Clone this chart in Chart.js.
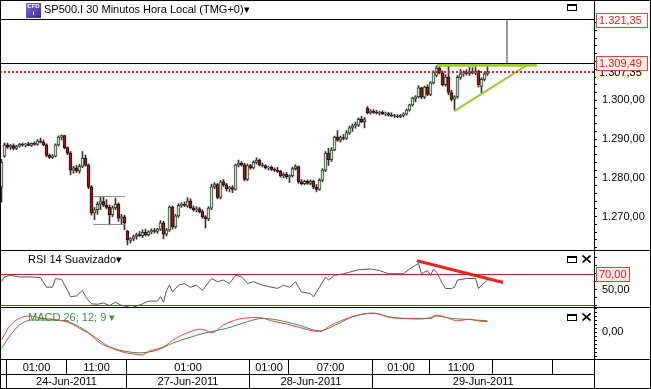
<!DOCTYPE html>
<html>
<head>
<meta charset="utf-8">
<script src="https://cdn.jsdelivr.net/npm/chart.js@4.4.1/dist/chart.umd.min.js"></script>
<style>
  body { margin: 0; background: #fff; font-family: "Liberation Sans", Arial, sans-serif; }
  #wrap { position: relative; width: 651px; height: 389px; overflow: hidden; background: #fff; }
  canvas { position: absolute; left: 0; }
  .ln { position: absolute; background: #000; }
  .txt { position: absolute; font-size: 11px; line-height: 13px; white-space: nowrap; color: #000; }
  .win { position: absolute; width: 8px; height: 4px; border: 1px solid #000; border-top-width: 2px; }
</style>
</head>
<body>
<div id="wrap">
  <canvas id="price" width="651" height="250" style="top:0px"></canvas>
  <canvas id="rsi" width="651" height="57" style="top:250px"></canvas>
  <canvas id="macd" width="651" height="82" style="top:307px"></canvas>

  <div class="ln" style="left:0;top:19px;width:594px;height:1px"></div>
  <div class="ln" style="left:594px;top:0;width:1px;height:389px"></div>
  <div class="ln" style="left:0;top:250px;width:651px;height:1px"></div>
  <div class="ln" style="left:0;top:307px;width:651px;height:1px"></div>
  <div class="ln" style="left:0;top:359px;width:651px;height:1px"></div>
  <div class="ln" style="left:0;top:374px;width:594px;height:1px"></div>
  <div style="position:absolute;left:0;top:0;width:651px;height:389px;border:1px solid #000;box-sizing:border-box"></div>

  <div style="position:absolute;left:26px;top:3px;width:15px;height:15px;background:linear-gradient(135deg,#7b6fd8,#3b2b8c);color:#fff;font:bold 6px Arial;line-height:7px;text-align:center">CFD<br>i</div>
  <div class="txt" style="left:44px;top:3px">SP500.I 30 Minutos Hora Local (TMG+0)▾</div>
  <div class="txt" style="left:28px;top:253px">RSI 14 Suavizado▾</div>
  <div class="txt" style="left:28px;top:311px;color:#3c8c3c">MACD 26; 12; 9 ▾</div>

  <div class="win" style="left:567px;top:4px"></div>
  <div class="win" style="left:567px;top:256px"></div>
  <div class="win" style="left:567px;top:314px"></div>
  <svg style="position:absolute;left:582px;top:255px" width="9" height="8"><path d="M0.5 0.5L8.5 7.5M8.5 0.5L0.5 7.5" stroke="#000" stroke-width="1.6"/></svg>
  <svg style="position:absolute;left:582px;top:313px" width="9" height="8"><path d="M0.5 0.5L8.5 7.5M8.5 0.5L0.5 7.5" stroke="#000" stroke-width="1.6"/></svg>
</div>

<script>
// 30 minute candles, SP500.I, 23-Jun-2011 evening to 29-Jun-2011
const opens = [
  1277.7, 1285.6, 1288.5, 1287.9, 1288.3, 1287.6, 1288.2, 1288.7, 1288.5, 1288.8,
  1288.4, 1288.9, 1288.6, 1289.5, 1289.2, 1288.5, 1285.8, 1285.3, 1285.6, 1288.5,
  1290.5, 1290.9, 1287.8, 1286.4, 1282.0, 1282.6, 1281.8, 1283.0, 1285.1, 1283.3,
  1277.7, 1271.0, 1271.8, 1273.2, 1273.9, 1273.0, 1272.4, 1270.5, 1272.3, 1273.2,
  1269.6, 1270.0, 1266.2, 1263.9, 1264.3, 1264.9, 1265.4, 1265.1, 1266.0, 1265.4,
  1266.1, 1266.4, 1266.2, 1266.8, 1268.4, 1265.5, 1266.6, 1272.5, 1267.4, 1270.2,
  1272.9, 1273.2, 1272.7, 1274.0, 1272.3, 1271.8, 1272.0, 1271.3, 1270.0, 1269.4,
  1272.2, 1277.7, 1278.3, 1275.0, 1279.0, 1278.2, 1277.2, 1277.5, 1277.0, 1283.3,
  1283.8, 1283.4, 1279.6, 1283.2, 1282.6, 1284.0, 1284.6, 1283.3, 1283.2, 1282.6,
  1282.8, 1282.2, 1282.0, 1281.7, 1280.5, 1281.0, 1280.3, 1280.6, 1282.4, 1282.9,
  1279.0, 1278.5, 1279.1, 1278.6, 1279.2, 1277.6, 1277.0, 1279.4, 1282.0, 1286.4,
  1284.7, 1287.2, 1290.5, 1289.7, 1290.4, 1290.2, 1291.6, 1292.9, 1293.4, 1293.6,
  1295.1, 1294.5, 1298.0, 1296.8, 1297.2, 1296.9, 1296.7, 1296.9, 1296.5, 1296.6,
  1296.2, 1296.0, 1295.9, 1295.8, 1296.1, 1296.4, 1297.5, 1298.8, 1300.3, 1300.9,
  1303.2, 1300.8, 1303.4, 1301.5, 1304.5, 1306.4, 1308.3, 1307.0, 1304.0, 1306.0,
  1302.0, 1300.2, 1300.9, 1305.9, 1306.8, 1307.1, 1306.9, 1307.4, 1307.0, 1307.5,
  1303.6, 1305.4, 1306.8
];
const highs = [
  1284.8, 1289.0, 1289.0, 1288.6, 1288.8, 1288.4, 1288.9, 1289.0, 1288.9, 1289.2,
  1289.0, 1289.3, 1289.9, 1290.3, 1289.8, 1288.8, 1286.2, 1286.0, 1288.8, 1290.8,
  1291.1, 1291.0, 1288.0, 1286.8, 1283.0, 1283.2, 1283.5, 1286.8, 1285.9, 1283.6,
  1278.0, 1272.4, 1273.8, 1275.0, 1275.2, 1274.4, 1273.0, 1272.8, 1274.8, 1273.6,
  1270.6, 1270.4, 1266.5, 1264.6, 1265.3, 1265.8, 1266.2, 1266.6, 1266.8, 1266.4,
  1266.9, 1267.0, 1267.0, 1269.0, 1268.8, 1267.0, 1272.8, 1272.8, 1270.6, 1273.4,
  1273.6, 1273.8, 1274.9, 1274.6, 1272.8, 1272.6, 1272.4, 1271.8, 1270.3, 1272.6,
  1278.4, 1278.8, 1278.6, 1279.4, 1279.6, 1278.6, 1277.8, 1278.0, 1283.6, 1284.6,
  1284.2, 1283.8, 1283.6, 1283.5, 1284.4, 1285.2, 1284.9, 1283.8, 1283.4, 1283.0,
  1283.1, 1282.6, 1282.7, 1282.0, 1281.3, 1281.4, 1280.8, 1282.8, 1283.4, 1283.1,
  1279.6, 1279.4, 1279.5, 1279.5, 1279.4, 1278.3, 1279.8, 1282.4, 1286.8, 1287.6,
  1287.8, 1290.8, 1292.2, 1290.8, 1291.2, 1292.2, 1293.4, 1293.9, 1294.4, 1295.5,
  1295.9, 1295.6, 1298.4, 1297.6, 1297.6, 1297.4, 1297.2, 1297.3, 1297.0, 1296.9,
  1296.8, 1296.4, 1296.3, 1296.4, 1296.8, 1297.8, 1299.0, 1300.8, 1301.2, 1303.8,
  1303.4, 1303.7, 1304.0, 1304.8, 1307.6, 1308.9, 1309.0, 1307.6, 1306.6, 1308.8,
  1302.6, 1301.2, 1306.4, 1308.0, 1307.6, 1307.9, 1308.6, 1308.4, 1308.9, 1307.8,
  1305.8, 1307.2, 1308.8
];
const lows = [
  1273.8, 1285.3, 1287.6, 1287.3, 1287.2, 1287.3, 1287.9, 1288.1, 1288.0, 1288.3,
  1288.1, 1288.4, 1288.4, 1289.0, 1288.3, 1285.4, 1285.0, 1285.0, 1285.4, 1288.2,
  1289.8, 1287.5, 1286.0, 1280.8, 1281.2, 1281.4, 1281.2, 1282.6, 1283.0, 1277.2,
  1270.4, 1269.2, 1270.6, 1271.8, 1272.6, 1272.0, 1267.9, 1270.0, 1271.8, 1268.8,
  1268.0, 1266.6, 1262.7, 1263.2, 1263.8, 1264.2, 1264.9, 1264.6, 1265.0, 1265.0,
  1265.6, 1265.8, 1265.7, 1266.4, 1264.3, 1265.0, 1266.2, 1266.8, 1267.0, 1269.8,
  1272.4, 1272.6, 1272.4, 1272.0, 1271.4, 1271.2, 1271.0, 1269.6, 1267.1, 1269.0,
  1271.8, 1277.2, 1274.6, 1274.6, 1277.8, 1276.6, 1276.4, 1276.2, 1276.8, 1282.8,
  1283.0, 1279.2, 1279.3, 1282.2, 1282.3, 1283.6, 1283.1, 1282.8, 1282.3, 1282.0,
  1281.9, 1281.6, 1281.4, 1280.2, 1280.0, 1279.8, 1278.8, 1280.2, 1282.0, 1278.6,
  1278.2, 1278.2, 1278.3, 1278.2, 1277.2, 1276.4, 1276.8, 1279.0, 1281.6, 1283.2,
  1284.2, 1287.0, 1289.4, 1289.2, 1289.8, 1289.9, 1291.2, 1292.0, 1292.8, 1293.2,
  1294.2, 1292.9, 1296.5, 1296.4, 1296.6, 1296.5, 1296.2, 1296.3, 1296.0, 1295.9,
  1295.8, 1295.6, 1295.5, 1295.5, 1295.7, 1296.2, 1297.2, 1298.5, 1299.6, 1300.6,
  1300.4, 1300.4, 1301.2, 1301.2, 1304.2, 1306.0, 1306.8, 1303.7, 1303.6, 1301.4,
  1299.8, 1297.5, 1300.5, 1305.4, 1306.2, 1306.5, 1306.4, 1306.8, 1306.6, 1303.4,
  1301.8, 1305.0, 1306.4
];
const closes = [
  1284.0, 1288.5, 1287.9, 1288.3, 1287.6, 1288.2, 1288.7, 1288.5, 1288.8, 1288.4,
  1288.9, 1288.6, 1289.5, 1289.2, 1288.5, 1285.8, 1285.3, 1285.6, 1288.5, 1290.5,
  1290.9, 1287.8, 1286.4, 1282.0, 1282.6, 1281.8, 1283.0, 1285.1, 1283.3, 1277.7,
  1271.0, 1271.8, 1273.2, 1273.9, 1273.0, 1272.4, 1270.5, 1272.3, 1273.2, 1269.6,
  1270.0, 1268.4, 1264.0, 1264.3, 1264.9, 1265.4, 1265.1, 1266.0, 1265.4, 1266.1,
  1266.4, 1266.2, 1266.8, 1268.4, 1265.5, 1266.6, 1272.5, 1267.4, 1270.2, 1272.9,
  1273.2, 1272.9, 1274.0, 1272.3, 1271.8, 1272.0, 1271.3, 1270.0, 1269.4, 1272.2,
  1277.7, 1278.3, 1275.0, 1279.0, 1278.2, 1277.2, 1277.5, 1277.0, 1283.3, 1283.8,
  1283.4, 1279.6, 1283.2, 1282.6, 1284.0, 1284.6, 1283.3, 1283.2, 1282.6, 1282.8,
  1282.2, 1282.0, 1281.7, 1280.5, 1281.0, 1280.3, 1280.6, 1282.4, 1282.9, 1279.0,
  1278.5, 1279.1, 1278.6, 1279.2, 1277.6, 1277.0, 1279.4, 1282.0, 1286.4, 1284.7,
  1287.2, 1290.5, 1289.7, 1290.4, 1290.2, 1291.6, 1292.9, 1293.4, 1293.8, 1295.1,
  1294.5, 1295.0, 1296.8, 1297.2, 1296.9, 1296.7, 1296.9, 1296.5, 1296.6, 1296.2,
  1296.0, 1295.9, 1295.8, 1296.1, 1296.5, 1297.5, 1298.8, 1300.6, 1300.9, 1303.2,
  1300.8, 1303.4, 1301.5, 1304.5, 1307.3, 1308.3, 1307.0, 1304.0, 1306.0, 1302.0,
  1300.2, 1300.9, 1305.9, 1306.8, 1307.1, 1306.9, 1307.4, 1307.0, 1307.5, 1304.0,
  1305.4, 1306.8, 1307.35
];
const slotCount = 198; // candle slots incl. empty space on the right

// RSI 14, at candle indexes
const rsiAt = [0, 1, 3, 6, 10, 13, 15, 17, 18, 20, 22, 23, 25, 27, 28, 30, 32, 34, 36, 38,
  40, 42, 43, 45, 47, 49, 52, 53, 54, 55, 56, 57, 59, 61, 63, 65, 67, 70, 72, 74,
  76, 78, 80, 82, 84, 87, 92, 94, 96, 98, 100, 103, 104, 106, 108, 109, 111, 114, 116, 119,
  123, 126, 129, 134, 136, 139, 140, 142, 143, 144, 145, 147, 148, 150, 151, 152, 155, 158, 159, 160, 162];
const rsiValues = [60, 66, 68, 66, 66, 65, 53, 53, 64, 63, 49, 41, 42, 49, 41, 32, 31.5, 33, 30, 34,
  30, 28.5, 27, 29, 32, 35.5, 35.5, 41, 34, 49, 55.5, 47, 55.5, 57.6, 53, 55.5, 49, 64, 60, 62,
  57.6, 68, 66.5, 57.6, 60, 55.5, 51.5, 55.5, 53, 59.8, 47, 45, 40.7, 53, 66, 62, 68, 70, 72, 75,
  76, 74, 70, 70, 76, 83, 70, 74, 68, 76, 72, 57.6, 51.3, 51.3, 53, 62, 64, 64, 51.3, 55.5, 62];
const rsiLevels = [70, 30];
const rsiTickLabels = [50];

// MACD 26;12;9
const macdAt = [0, 3, 6, 9, 14, 19, 23, 26, 29, 33, 37, 40, 44, 47, 49, 54, 58, 62, 66, 68,
  70, 74, 79, 86, 90, 95, 99, 106, 110, 116, 123, 126, 129, 134, 139, 143, 145, 148, 152, 156, 159, 162];
const macdValues = [-2, 1.75, 3.4, 4, 3.4, 3, 2.2, 0.9, -0.3, -2.8, -4.1, -4.9, -5.5, -5.7, -4.9, -3.7, -1.6, -0.2, 0.7, 0.5,
  -0.2, 1.75, 3.2, 3.6, 2.8, 2, 1.2, 0.1, 1.75, 3.6, 4.7, 4.5, 3.7, 3.4, 3.25, 3.6, 4.2, 3.7, 2.8, 3.2, 2.75, 2.6];
const signalAt = [0, 3, 6, 10, 16, 22, 26, 31, 36, 42, 46, 52, 57, 63, 68, 75, 82, 87, 92, 96,
  99, 106, 112, 117, 124, 129, 135, 143, 145, 150, 154, 158, 162];
const signalValues = [-4.1, -0.75, 1.75, 3, 3, 2.6, 1.3, -1.2, -3.7, -4.9, -5.2, -4.5, -2.8, -1.3, -0.2, 0.9, 2.6, 3.4, 3, 2.3,
  1.75, 0.3, 2, 3.8, 4.7, 3.8, 3.4, 3.4, 4, 3.4, 3.2, 3, 2.8];
const macdTickLabels = [0];

// price lines and drawings
const priceTickLabels = [1270, 1280, 1290, 1300];
const topMark = 1321.35;
const priceLine = 1309.49;
const lastPrice = 1307.35;
const resistance = [{ x: 145.2, y: 1309.0 }, { x: 178.5, y: 1309.0 }];
const support = [{ x: 150.9, y: 1297.2 }, { x: 175.1, y: 1309.0 }];
const rangeTop = [{ x: 30.5, y: 1275.2 }, { x: 41.2, y: 1275.2 }];
const rangeBottom = [{ x: 30.5, y: 1268.0 }, { x: 41.2, y: 1268.0 }];
const marker = [{ x: 168.5, y: topMark }, { x: 168.5, y: priceLine }];
const rsiTrend = [{ x: 138.5, y: 86.4 }, { x: 167.2, y: 59 }];

// bottom axis
const timeTicks = [2, 22, 42, 83, 96, 124, 143, 164, 184];
const timeLabels = ['01:00', '11:00', '01:00', '01:00', '07:00', '01:00', '11:00', '', ''];
const dateTicks = [2, 42, 83, 124];
const dateLabels = ['24-Jun-2011', '27-Jun-2011', '28-Jun-2011', '29-Jun-2011'];

const FONT = '"Liberation Sans", Arial, sans-serif';
const UP = '#cde8c6', DOWN = '#9c1c1c';

function fmt(v) {
  const s = Math.abs(v).toFixed(2).split('.');
  return (v < 0 ? '-' : '') + s[0].replace(/\B(?=(\d{3})+(?!\d))/g, '.') + ',' + s[1];
}
function only(list) {
  return v => (list.some(t => Math.abs(t - v) < 1e-6) ? fmt(v) : '');
}

const xScale = { type: 'linear', min: -0.5, max: slotCount - 0.5, display: false, offset: false };
function yScale(min, max, step, cb) {
  return {
    type: 'linear', position: 'right', min: min, max: max,
    afterFit: s => { s.width = 57; s.paddingTop = 0; s.paddingBottom = 0; },
    border: { display: false },
    grid: { drawOnChartArea: false, tickLength: 3, tickColor: '#000' },
    ticks: {
      stepSize: step, includeBounds: false, autoSkip: false, padding: 5,
      color: '#000', font: { family: FONT, size: 11 }, callback: cb
    }
  };
}

// horizontal level lines and value boxes on the axis
const decor = {
  id: 'decor',
  afterDatasetsDraw(chart, args, opts) {
    const { ctx, chartArea: a } = chart;
    const y = chart.scales.y;
    (opts.lines || []).forEach(l => {
      const py = Math.round(y.getPixelForValue(l.value)) + (l.width === 2 ? 0 : 0.5);
      ctx.save();
      ctx.strokeStyle = l.color;
      ctx.lineWidth = l.width || 1;
      ctx.setLineDash(l.dash || []);
      ctx.beginPath();
      ctx.moveTo(a.left, py);
      ctx.lineTo(a.right, py);
      ctx.stroke();
      ctx.restore();
    });
  },
  afterDraw(chart, args, opts) {
    const { ctx, chartArea: a } = chart;
    const y = chart.scales.y;
    (opts.boxes || []).forEach(b => {
      let py = Math.max(y.getPixelForValue(b.value), a.top + 0.5);
      py = Math.round(py);
      ctx.save();
      ctx.fillStyle = b.fill;
      ctx.fillRect(a.right + 2, py - 7, b.w, 15);
      if (b.stroke) {
        ctx.strokeStyle = b.stroke;
        ctx.lineWidth = 1;
        ctx.strokeRect(a.right + 2.5, py - 6.5, b.w - 1, 14);
      }
      ctx.fillStyle = b.color;
      ctx.font = '11px ' + FONT;
      ctx.textBaseline = 'middle';
      ctx.fillText(b.text, a.right + 5, py + 1);
      ctx.restore();
    });
  }
};

// two-row time / date axis under the MACD panel
const timeAxis = {
  id: 'timeAxis',
  afterDraw(chart) {
    const { ctx, chartArea: a } = chart;
    const x = chart.scales.x;
    const top = a.bottom, mid = a.bottom + 15, bot = chart.height;
    const px = k => Math.round(x.getPixelForValue(k - 0.5)) + 0.5;
    ctx.save();
    ctx.strokeStyle = '#000';
    ctx.fillStyle = '#000';
    ctx.lineWidth = 1;
    ctx.font = '11px ' + FONT;
    ctx.textAlign = 'center';
    ctx.textBaseline = 'middle';
    timeTicks.forEach((k, i) => {
      const x0 = px(k);
      const x1 = i < timeTicks.length - 1 ? px(timeTicks[i + 1]) : a.right;
      ctx.beginPath(); ctx.moveTo(x0, top); ctx.lineTo(x0, mid); ctx.stroke();
      ctx.fillText(timeLabels[i], (x0 + x1) / 2, (top + mid) / 2 + 1);
    });
    dateTicks.forEach((k, i) => {
      const x0 = px(k);
      const x1 = i < dateTicks.length - 1 ? px(dateTicks[i + 1]) : a.right;
      ctx.beginPath(); ctx.moveTo(x0, mid); ctx.lineTo(x0, bot); ctx.stroke();
      ctx.fillText(dateLabels[i], (x0 + x1) / 2, (mid + bot) / 2);
    });
    ctx.restore();
  }
};

const common = {
  responsive: false,
  animation: false,
  events: [],
  plugins: { legend: { display: false }, tooltip: { enabled: false } }
};

const pts = (at, vals) => at.map((k, j) => ({ x: k, y: vals[j] }));
const seg = (data, color, width, order) => ({
  type: 'line', data: data, borderColor: color, borderWidth: width, pointRadius: 0, order: order
});

// price panel
new Chart(document.getElementById('price'), {
  type: 'bar',
  data: {
    datasets: [
      seg(resistance, '#9acd32', 3, 0),
      seg(support, '#9acd32', 2, 0),
      seg(rangeTop, '#8c8c8c', 1, 0),
      seg(rangeBottom, '#8c8c8c', 1, 0),
      seg(marker, '#8c8c8c', 1, 0),
      {
        label: 'body',
        data: closes.map((c, i) => ({ x: i, y: [opens[i], c] })),
        backgroundColor: ctx => (closes[ctx.dataIndex] >= opens[ctx.dataIndex] ? UP : DOWN),
        borderColor: ctx => (closes[ctx.dataIndex] >= opens[ctx.dataIndex] ? '#2f3f2f' : '#2a0808'),
        borderWidth: 1,
        borderSkipped: false,
        barThickness: 3,
        grouped: false,
        order: 1
      },
      {
        label: 'wick',
        data: closes.map((c, i) => ({ x: i, y: [lows[i], highs[i]] })),
        backgroundColor: '#333',
        barThickness: 1,
        grouped: false,
        order: 2
      }
    ]
  },
  options: Object.assign({}, common, {
    layout: { padding: { top: 19 } },
    scales: { x: xScale, y: yScale(1261.42, 1320.95, 2, only(priceTickLabels)) },
    plugins: Object.assign({}, common.plugins, {
      decor: {
        lines: [
          { value: priceLine, color: '#000', width: 1 },
          { value: lastPrice, color: '#e02020', width: 2, dash: [2, 2] }
        ],
        boxes: [
          { value: topMark, text: fmt(topMark), fill: '#fff', stroke: '#e04040', color: '#d42020', w: 52 },
          { value: lastPrice, text: fmt(lastPrice), fill: '#fdf7e4', stroke: null, color: '#000', w: 52 },
          { value: priceLine, text: fmt(priceLine), fill: '#fdf1e6', stroke: '#e04040', color: '#d42020', w: 52 }
        ]
      }
    })
  }),
  plugins: [decor]
});

// RSI panel
new Chart(document.getElementById('rsi'), {
  type: 'line',
  data: {
    datasets: [
      seg(rsiTrend, '#e8271a', 3, 0),
      { data: pts(rsiAt, rsiValues), borderColor: '#555', borderWidth: 1, pointRadius: 0, order: 1 }
    ]
  },
  options: Object.assign({}, common, {
    scales: { x: xScale, y: yScale(28, 100, 10, only(rsiTickLabels)) },
    plugins: Object.assign({}, common.plugins, {
      decor: {
        lines: [
          { value: rsiLevels[0], color: '#d02020', width: 1 },
          { value: rsiLevels[1], color: '#1f7a1f', width: 1 }
        ],
        boxes: [
          { value: rsiLevels[0], text: fmt(rsiLevels[0]), fill: '#fdeaea', stroke: '#e04040', color: '#d42020', w: 34 }
        ]
      }
    })
  }),
  plugins: [decor]
});

// MACD panel + time axis
new Chart(document.getElementById('macd'), {
  type: 'line',
  data: {
    datasets: [
      { data: pts(macdAt, macdValues), borderColor: '#e8404f', borderWidth: 1, pointRadius: 0, cubicInterpolationMode: 'monotone' },
      { data: pts(signalAt, signalValues), borderColor: '#3d8b3d', borderWidth: 1, pointRadius: 0, cubicInterpolationMode: 'monotone' }
    ]
  },
  options: Object.assign({}, common, {
    layout: { padding: { bottom: 30 } },
    scales: { x: xScale, y: yScale(-6.74, 6.25, 1, only(macdTickLabels)) }
  }),
  plugins: [timeAxis]
});
</script>
</body>
</html>
